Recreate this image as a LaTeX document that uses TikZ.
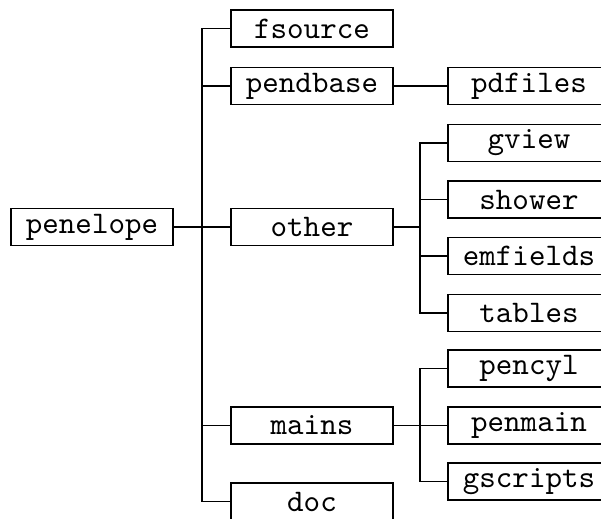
\documentclass[tikz,border=0pt]{standalone}
\usepackage{tikz}

\begin{document}
\begin{tikzpicture}[x=0.318pt,y=-0.318pt,line width=0.45pt,
  dirbox/.style={draw,minimum width=51.5pt,minimum height=11.8pt,inner sep=0pt,font=\ttfamily}]
\useasboundingbox (0,0) rectangle (601,519);
\node[dirbox] (penelope) at (92,227) {penelope};
\node[dirbox] (fsource) at (312,28.5) {fsource};
\node[dirbox] (pendbase) at (312,86) {pendbase};
\node[dirbox] (other) at (312,227) {other};
\node[dirbox] (mains) at (312,425.5) {mains};
\node[dirbox] (doc) at (312,501.5) {doc};
\node[dirbox] (pdfiles) at (529,86) {pdfiles};
\node[dirbox] (gview) at (529,143) {gview};
\node[dirbox] (shower) at (529,199.5) {shower};
\node[dirbox] (emfields) at (529,256) {emfields};
\node[dirbox] (tables) at (529,313) {tables};
\node[dirbox] (pencyl) at (529,368.5) {pencyl};
\node[dirbox] (penmain) at (529,425.5) {penmain};
\node[dirbox] (gscripts) at (529,481.5) {gscripts};
\coordinate (t1) at (202,227);
\coordinate (t2) at (420,227);
\coordinate (t3) at (420,425.5);
\draw (penelope.east) -- (other.west);
\draw (fsource.west) -| (t1) |- (doc.west);
\foreach \n in {pendbase,mains}
  \draw (t1 |- \n.west) -- (\n.west);
\draw (pendbase.east) -- (pdfiles.west);
\draw (other.east) -- (t2);
\draw (gview.west) -| (t2) |- (tables.west);
\foreach \n in {shower,emfields}
  \draw (t2 |- \n.west) -- (\n.west);
\draw (mains.east) -- (penmain.west);
\draw (pencyl.west) -| (t3) |- (gscripts.west);
\end{tikzpicture}
\end{document}
